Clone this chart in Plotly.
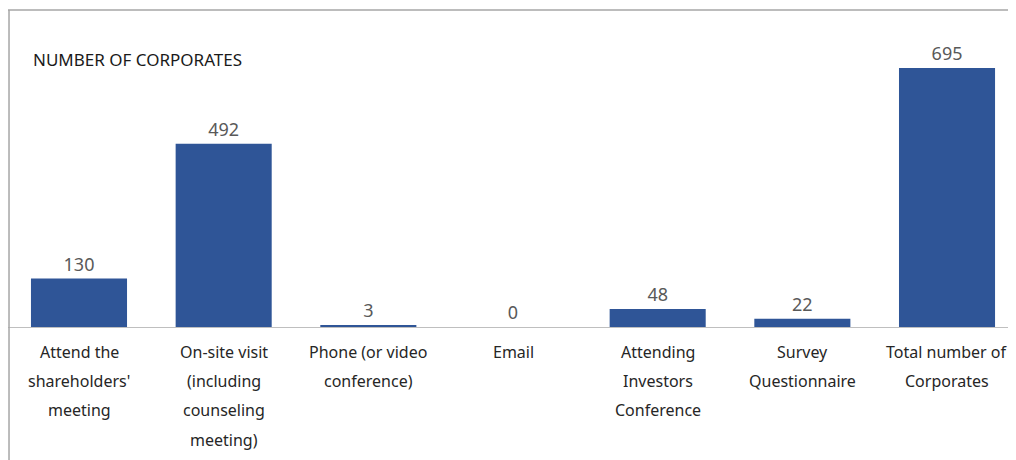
import plotly.graph_objects as go

categories = ["Attend the<br>shareholders'<br>meeting",
              "On-site visit<br>(including<br>counseling<br>meeting)",
              "Phone (or video<br>conference)",
              "Email",
              "Attending<br>Investors<br>Conference",
              "Survey<br>Questionnaire",
              "Total number of<br>Corporates"]
values = [130, 492, 3, 0, 48, 22, 695]
title_text = "NUMBER OF CORPORATES"

W, H = 1016, 460
ml, mr, mt, mb = 0, 0, 2, 141
plot_h = H - mt - mb
plot_w = W - ml - mr
FONT = "Noto Sans"

xs = list(range(len(categories)))
fig = go.Figure()
fig.add_trace(go.Bar(
    x=xs, y=values,
    marker=dict(color="#2F5597", line=dict(width=0)),
    text=[str(v) for v in values], textposition="outside",
    textfont=dict(family=FONT, size=18, color="#595959"),
    cliponaxis=False, hoverinfo="skip",
))

# category labels, one annotation per line for Excel-like line spacing
annotations = []
for i, lab in enumerate(categories):
    for k, line in enumerate(lab.split("<br>")):
        annotations.append(dict(
            x=i, xref="x", y=0, yref="paper", yanchor="middle",
            yshift=-25 - 29.2 * k, text=line, showarrow=False,
            font=dict(family=FONT, size=16, color="#262626")))
annotations.append(dict(
    x=23 / plot_w, xref="paper", y=1, yref="paper",
    xanchor="left", yanchor="middle", yshift=-49, text=title_text,
    showarrow=False, font=dict(family=FONT, size=17, color="#1a1a1a")))

x0 = -0.4908
x1 = x0 + plot_w / 144.67
fig.update_layout(
    width=W, height=H,
    margin=dict(l=ml, r=mr, t=mt, b=mb, pad=0),
    paper_bgcolor="white", plot_bgcolor="white",
    bargap=0.336, showlegend=False,
    annotations=annotations,
    xaxis=dict(range=[x0, x1], showticklabels=False,
               showgrid=False, zeroline=False, showline=True,
               linecolor="#BFBFBF", linewidth=1, ticks=""),
    yaxis=dict(range=[0, 850.6], showticklabels=False, showgrid=False,
               zeroline=False, showline=False, ticks=""),
    shapes=[
        dict(type="line", xref="paper", yref="paper", x0=0, x1=1.01, y0=1, y1=1,
             line=dict(color="#A6A6A6", width=1.5)),
        dict(type="line", xref="paper", yref="paper", x0=0.001, x1=0.001, y0=1,
             y1=-mb / plot_h - 0.01, line=dict(color="#A6A6A6", width=1.5)),
    ],
)
fig.write_html("out.html")
